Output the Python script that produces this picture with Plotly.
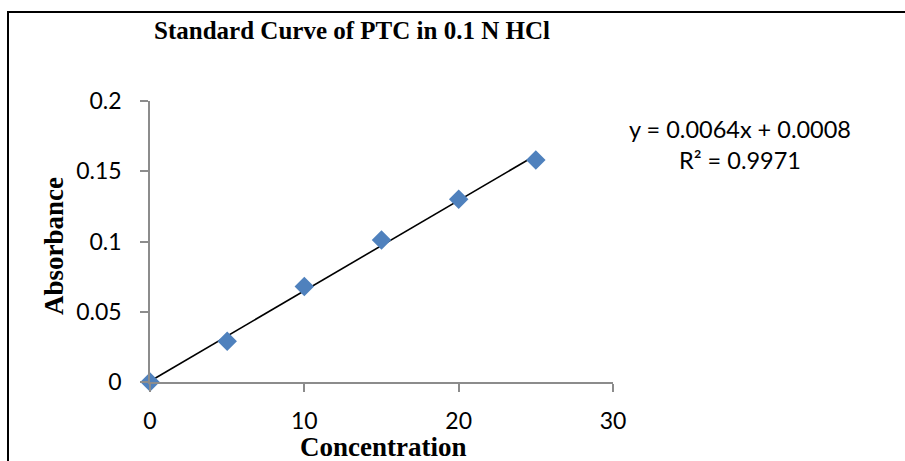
import numpy as np
import plotly.graph_objects as go

concentration = [0, 5, 10, 15, 20, 25]
absorbance = [0.0, 0.029, 0.068, 0.101, 0.130, 0.158]
x_ticks = [0, 10, 20, 30]
y_ticks = [0, 0.05, 0.1, 0.15, 0.2]
y_tick_labels = ["0", "0.05", "0.1", "0.15", "0.2"]
equation_text = "y = 0.0064x + 0.0008<br>R² = 0.9971"
x_title = "Concentration"
y_title = "Absorbance"

W, H = 905, 461
L, R, T, B = 150, 292, 101, 79
pw, ph = W - L - R, H - T - B

slope, intercept = np.polyfit(concentration, absorbance, 1)
fit_x = [min(concentration), max(concentration)]
fit_y = [slope * v + intercept for v in fit_x]

fig = go.Figure()
fig.add_trace(go.Scatter(x=fit_x, y=fit_y, mode="lines",
                         line=dict(color="black", width=1.6),
                         hoverinfo="skip", cliponaxis=False))
fig.add_trace(go.Scatter(x=concentration, y=absorbance, mode="markers",
                         marker=dict(symbol="diamond", size=15, color="#4F81BD",
                                     line=dict(width=0)),
                         cliponaxis=False))

def px_x(p):
    return (p - L) / pw

def px_y(p):
    return (H - B - p) / ph

fig.update_layout(
    width=W, height=H,
    margin=dict(l=L, r=R, t=T, b=B, autoexpand=False),
    paper_bgcolor="white", plot_bgcolor="white",
    showlegend=False,
    title=dict(text="<b>Standard Curve of PTC in 0.1 N HCl</b>",
               xref="container", yref="container",
               x=352 / W, y=1 - 30 / H, xanchor="center", yanchor="middle",
               font=dict(family="Liberation Serif", size=25, color="black")),
    xaxis=dict(range=[0, 30], tickvals=x_ticks, ticktext=[str(v) for v in x_ticks],
               automargin=False,
               showgrid=False, zeroline=False, showline=True,
               linecolor="#8c8c8c", linewidth=1.5,
               ticks="outside", ticklen=8, tickwidth=1.5, tickcolor="#8c8c8c",
               tickfont=dict(family="Lato", size=23, color="black"),
               ticklabelstandoff=10),
    yaxis=dict(range=[0, 0.2], tickvals=y_ticks, ticktext=y_tick_labels,
               automargin=False,
               showgrid=False, zeroline=False, showline=True,
               linecolor="#8c8c8c", linewidth=1.5,
               ticks="outside", ticklen=8, tickwidth=1.5, tickcolor="#8c8c8c",
               tickfont=dict(family="Lato", size=23, color="black"),
               ticklabelstandoff=14),
)

fig.add_annotation(text=f"<b>{x_title}</b>", xref="paper", yref="paper",
                   x=px_x(383), y=px_y(447), xanchor="center", yanchor="middle",
                   showarrow=False,
                   font=dict(family="Liberation Serif", size=27, color="black"))
fig.add_annotation(text=f"<b>{y_title}</b>", xref="paper", yref="paper",
                   x=px_x(54), y=px_y(246), xanchor="center", yanchor="middle",
                   showarrow=False, textangle=-90,
                   font=dict(family="Liberation Serif", size=27, color="black"))

fig.add_annotation(text=equation_text, xref="paper", yref="paper",
                   x=px_x(740), y=px_y(144), xanchor="center", yanchor="middle",
                   showarrow=False, align="center",
                   font=dict(family="Lato", size=23.5, color="black"))

fig.add_shape(type="rect", xref="paper", yref="paper",
              x0=px_x(8), x1=px_x(W + 10), y0=px_y(H + 10), y1=px_y(12),
              line=dict(color="black", width=2), fillcolor="rgba(0,0,0,0)", layer="below")

fig.write_html("out.html")
